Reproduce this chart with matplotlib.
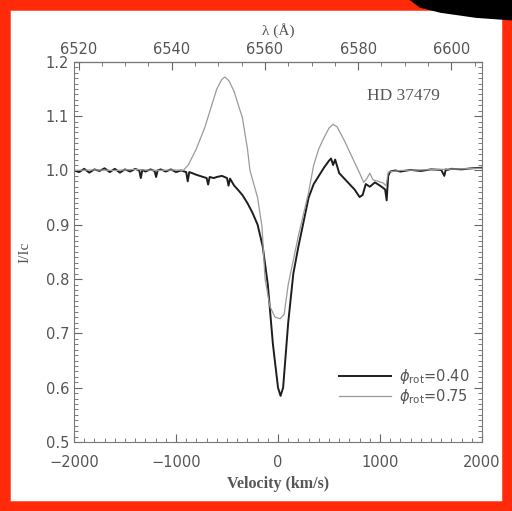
import matplotlib
matplotlib.use("Agg")
import matplotlib.pyplot as plt
from matplotlib.ticker import MultipleLocator, FixedLocator
from matplotlib.patches import Rectangle, Polygon

# phi_rot = 0.40 (thick dark line)
vel_a = [-2000, -1950, -1900, -1850, -1800, -1750, -1700, -1650, -1600, -1550,
         -1500, -1450, -1400, -1360, -1345, -1330, -1300, -1250, -1210, -1195,
         -1180, -1150, -1100, -1050, -1000, -950, -900, -885, -870, -840,
         -800, -750, -700, -685, -670, -630, -600, -550, -500, -485, -470,
         -430, -400, -350, -300, -250, -200, -150, -100, -50, 0, 25, 50,
         100, 150, 200, 250, 300, 350, 400, 450, 500, 520, 540, 560, 600,
         650, 700, 750, 800, 830, 860, 900, 950, 1000, 1050, 1065, 1080,
         1100, 1150, 1200, 1300, 1400, 1500, 1600, 1630, 1645, 1660, 1700,
         1800, 1900, 2000]
flux_a = [1.000, 0.997, 1.003, 0.996, 1.002, 0.999, 1.004, 0.997, 1.003, 0.996,
          1.002, 0.998, 1.003, 1.000, 0.986, 1.001, 0.998, 1.002, 0.999, 0.988,
          1.000, 1.002, 0.998, 1.002, 0.997, 1.000, 0.997, 0.980, 0.997, 0.995,
          0.992, 0.989, 0.986, 0.974, 0.988, 0.986, 0.988, 0.990, 0.986, 0.972,
          0.985, 0.972, 0.966, 0.955, 0.940, 0.922, 0.900, 0.860, 0.790, 0.680,
          0.600, 0.585, 0.600, 0.720, 0.810, 0.860, 0.905, 0.950, 0.975, 0.990,
          1.005, 1.018, 1.022, 1.010, 1.020, 0.995, 0.985, 0.975, 0.965, 0.951,
          0.955, 0.975, 0.970, 0.978, 0.972, 0.965, 0.945, 0.990, 0.998, 1.000,
          0.998, 1.001, 0.999, 1.002, 1.001, 0.990, 1.002, 1.001, 1.003, 1.002,
          1.004, 1.005]

# phi_rot = 0.75 (thin grey line)
vel_b = [-2000, -1800, -1600, -1400, -1200, -1000, -930, -880, -800, -716,
         -650, -600, -550, -520, -480, -430, -380, -350, -300, -275, -200,
         -157, -127, -80, -30, 20, 60, 100, 200, 300, 350, 400, 450, 500,
         540, 580, 650, 700, 750, 800, 840, 870, 900, 930, 980, 1030, 1060,
         1080, 1200, 1400, 1600, 1800, 2000]
flux_b = [1.000, 1.001, 1.000, 1.002, 1.000, 1.001, 1.000, 1.010, 1.040, 1.080,
          1.120, 1.150, 1.168, 1.172, 1.165, 1.145, 1.115, 1.098, 1.040, 1.000,
          0.950, 0.896, 0.800, 0.750, 0.730, 0.727, 0.735, 0.790, 0.880, 0.960,
          1.010, 1.040, 1.060, 1.078, 1.085, 1.080, 1.055, 1.035, 1.015, 0.995,
          0.978, 0.985, 0.995, 0.983, 0.980, 0.977, 0.972, 0.997, 1.000, 1.001,
          1.002, 1.003, 1.004]

wave_ticks = [6520, 6540, 6560, 6580, 6600]

c_kms = 299792.458
lam0 = 6562.8

fig = plt.figure(figsize=(5.12, 5.11), dpi=100)
ax = fig.add_axes([0.1445, 0.135, 0.797, 0.744])

ax.plot(vel_a, flux_a, color="#1e1e1e", lw=1.4, label=r"$\phi_{\rm rot}$=0.40")
ax.plot(vel_b, flux_b, color="#9a9a9a", lw=0.9, label=r"$\phi_{\rm rot}$=0.75")

ax.set_xlim(-2000, 2000)
ax.set_ylim(0.5, 1.2)
ax.xaxis.set_major_locator(MultipleLocator(1000))
ax.xaxis.set_minor_locator(MultipleLocator(100))
ax.yaxis.set_major_locator(MultipleLocator(0.1))
ax.yaxis.set_minor_locator(MultipleLocator(0.01))
ax.tick_params(which="both", direction="in", top=False, right=True,
               colors="#666666", labelcolor="#555555", labelsize=10.5)
ax.tick_params(which="major", length=6)
ax.tick_params(which="minor", length=3)
ax.tick_params(axis="x", pad=9)
ax.yaxis.set_major_formatter(plt.FuncFormatter(lambda v, p: f"{v:.1f}"))
ax.xaxis.set_major_formatter(plt.FuncFormatter(
    lambda v, p: f"{int(v)}".replace("-", "\u2212")))
for s in ax.spines.values():
    s.set_color("#777777")

sec = ax.secondary_xaxis("top", functions=(lambda v: lam0 * (1 + v / c_kms),
                                           lambda l: (l / lam0 - 1) * c_kms))
sec.xaxis.set_major_locator(FixedLocator(wave_ticks))
sec.xaxis.set_minor_locator(MultipleLocator(5))
sec.tick_params(which="both", direction="in", colors="#666666",
                labelcolor="#555555", labelsize=10.5)
sec.tick_params(which="major", length=6)
sec.tick_params(which="minor", length=3)
sec.set_xlabel("\u03bb (\u00c5)", family="Liberation Serif", fontsize=11,
               color="#555555", labelpad=5)

ax.set_xlabel("Velocity (km/s)", family="Liberation Serif", fontsize=11.5,
              color="#555555", fontweight="bold", labelpad=5)
ax.set_ylabel("I/Ic", family="Liberation Serif", fontsize=11, color="#555555",
              labelpad=10)

ax.text(0.718, 0.9, "HD 37479", transform=ax.transAxes, family="Liberation Serif",
        fontsize=12.5, color="#555555")

leg = ax.legend(loc="lower right", bbox_to_anchor=(0.99, 0.072), frameon=False,
                handlelength=3.6, handletextpad=0.5, fontsize=10.5,
                labelspacing=0.05, borderaxespad=0.2)
for t in leg.get_texts():
    t.set_color("#555555")

# red ragged frame around the picture
fig.patches.append(Rectangle((0.008, 0.008), 0.984, 0.984, transform=fig.transFigure,
                             fill=False, edgecolor="#ff2a0a", lw=9))
fig.patches.append(Polygon([(0.80, 1.0), (1.0, 1.0), (1.0, 0.96), (0.93, 0.965),
                            (0.86, 0.975), (0.82, 0.985)], closed=True,
                           transform=fig.transFigure, facecolor="black"))

fig.savefig("out.png", dpi=100)
